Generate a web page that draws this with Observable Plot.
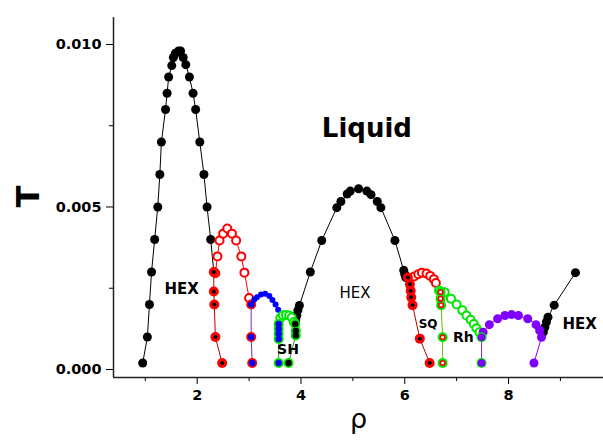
<!DOCTYPE html>
<html><head><meta charset="utf-8">
<script src="https://cdn.jsdelivr.net/npm/d3@7"></script>
<script src="https://cdn.jsdelivr.net/npm/@observablehq/plot@0.6"></script>
<style>
body{margin:0;background:#fff;}
#chart svg{overflow:visible;}
.tk text{font-family:"DejaVu Sans",sans-serif;font-weight:bold;}
</style>
</head><body><div id="chart"></div>
<script>
// ---- data (rho, T) ----
const hex1Rho = [0.95,1.04,1.08,1.12,1.18,1.24,1.28,1.31,1.39,1.42,1.45,1.51,1.54,1.58,1.64,1.68,1.73,1.78,1.85,1.92,1.97,2.05,2.13,2.19,2.26,2.32];
const hex1T   = [0.0002,0.001,0.002,0.003,0.004,0.005,0.006,0.007,0.008,0.0085,0.009,0.00935,0.0096,0.00973,0.0098,0.0098,0.0096,0.00938,0.009,0.0085,0.008,0.007,0.006,0.005,0.004,0.003];

const bnd1Rho = [2.32,2.32,2.33,2.35,2.48];
const bnd1T   = [0.003,0.0024,0.002,0.001,0.0002];

const ph2Rho = [2.35,2.39,2.43,2.50,2.58,2.67,2.75,2.85,2.91,3.0];
const ph2T   = [0.00296,0.00348,0.00397,0.00418,0.00434,0.00418,0.00397,0.00348,0.00298,0.0022];

const bnd2Rho = [3.04,3.04,3.06];
const bnd2T   = [0.002,0.001,0.0002];

const blueRho = [3.1,3.15,3.23,3.31,3.39,3.45,3.51,3.56];
const blueT   = [0.00215,0.00222,0.00231,0.00233,0.00226,0.00214,0.002,0.00184];

const shTopRho = [3.6,3.65,3.71,3.77,3.82,3.86];
const shTopT   = [0.00158,0.00167,0.00168,0.00166,0.0016,0.00146];
const shLeftRho = [3.57,3.57,3.57,3.57,3.57];
const shLeftT   = [0.0014,0.00125,0.0011,0.00094,0.0002];
const shRightRho = [3.89,3.90,3.90,3.76];
const shRightT   = [0.0014,0.00119,0.00105,0.0002];

const hex2Rho = [3.90,3.92,3.94,3.97,4.18,4.40,4.69,4.77,4.89,4.95,5.11,5.27,5.35,5.47,5.54,5.81,5.98,6.0,6.02];
const hex2T   = [0.00153,0.00166,0.00182,0.00197,0.003,0.00397,0.00498,0.00517,0.0054,0.00549,0.00556,0.00549,0.00538,0.00517,0.00498,0.00397,0.00305,0.00293,0.00283];

const sqBndRho = [6.06,6.10,6.115,6.125,6.15,6.29,6.48];
const sqBndT   = [0.00283,0.00262,0.00242,0.00222,0.00198,0.00095,0.0002];
const sqRho = [6.18,6.26,6.33,6.42,6.49,6.56,6.6];
const sqT   = [0.00286,0.00293,0.00298,0.00295,0.00288,0.00278,0.00266];

const rhBndRho = [6.69,6.69,6.7,6.73,6.73];
const rhBndT   = [0.00238,0.00218,0.00198,0.00099,0.0002];
const rhRho = [6.66,6.77,6.89,7.0,7.11,7.19,7.27,7.33,7.38,7.44];
const rhT   = [0.00243,0.00238,0.00218,0.002,0.00182,0.00166,0.00153,0.0014,0.00127,0.00115];

const bnd3Rho = [7.48,7.48];
const bnd3T   = [0.00099,0.0002];

const purRho = [7.51,7.63,7.79,7.93,8.06,8.19,8.37,8.53,8.6,8.635,8.49];
const purT   = [0.00115,0.00138,0.00156,0.00166,0.00169,0.00166,0.00156,0.00138,0.0012,0.00099,0.0002];

const hex3Rho = [8.67,8.70,8.73,8.76,8.88,9.29];
const hex3T   = [0.00115,0.0013,0.00146,0.00161,0.00198,0.00298];

const xTicksMajor = [2,4,6,8];
const xTicksMinor = [1,3,5,7,9];
const yTicksMajor = [0,0.005,0.010];
const yTicksMinor = [0.0025,0.0075];

const phaseLabels = ["HEX","HEX","SH","SQ","Rh","HEX"];
const phaseRho = [1.70,5.04,3.75,6.45,7.13,9.37];
const phaseT   = [0.00246,0.00234,0.00060,0.00139,0.00099,0.00138];

// ---- build ----
const zip = (xs, ys) => xs.map((x,i)=>({rho:x, T:ys[i]}));
const hex1 = zip(hex1Rho,hex1T), bnd1 = zip(bnd1Rho,bnd1T), ph2 = zip(ph2Rho,ph2T),
  bnd2 = zip(bnd2Rho,bnd2T), blue = zip(blueRho,blueT), shTop = zip(shTopRho,shTopT),
  shLeft = zip(shLeftRho,shLeftT), shRight = zip(shRightRho,shRightT), hex2 = zip(hex2Rho,hex2T),
  sqBnd = zip(sqBndRho,sqBndT), sq = zip(sqRho,sqT), rhBnd = zip(rhBndRho,rhBndT), rh = zip(rhRho,rhT),
  bnd3 = zip(bnd3Rho,bnd3T), pur = zip(purRho,purT), hex3 = zip(hex3Rho,hex3T);
const labels = phaseLabels.map((t,i)=>({t, rho:phaseRho[i], T:phaseT[i], size: t==="SQ" ? 12 : (t==="HEX" ? 15 : 14)}));

const RED="#ff0000", GREEN="#00e600", BLUE="#0000ff", PURPLE="#7f00ff";
const P = {x:"rho", y:"T"};
const line = (d, stroke) => Plot.line(d, {...P, stroke, strokeWidth:1});
const dot = (d, o) => Plot.dot(d, {...P, ...o});

const xMin = 0.387, xMax = 9.83, yMin = -0.000246, yMax = 0.01083;

const chart = Plot.plot({
  width:603, height:440,
  marginLeft:113, marginRight:0, marginTop:17, marginBottom:63,
  x:{domain:[xMin,xMax]}, y:{domain:[yMin,yMax]},
  style:{fontFamily:"'Liberation Sans', Arial, sans-serif", background:"#fff", color:"#000"},
  marks:[
    Plot.axisX({ticks:xTicksMajor, tickSize:7, tickPadding:5, fontSize:14.5, tickFormat:d=>String(d), label:null, className:"tk"}),
    Plot.axisX({ticks:xTicksMinor, tickSize:4, tickFormat:()=>"", label:null}),
    Plot.axisY({ticks:yTicksMajor, tickSize:7, tickPadding:5, fontSize:14.5, tickFormat:d3.format(".3f"), label:null, className:"tk"}),
    Plot.axisY({ticks:yTicksMinor, tickSize:4, tickFormat:()=>"", label:null}),
    Plot.ruleX([xMin], {y1:yMin, y2:yMax, stroke:"#222", strokeWidth:1.5}),
    Plot.ruleY([yMin], {x1:xMin, x2:xMax, stroke:"#222", strokeWidth:1.5}),
    // lines
    line(hex1,"#000"), line(bnd1,"#b00000"), line(ph2,RED), line(bnd2,"#6a2fd0"),
    line(blue,BLUE), line(shTop,GREEN), line(shLeft,"#2a8a2a"), line(shRight,"#2a8a2a"),
    line(hex2,"#000"), line(sqBnd,"#b00000"), line(sq,RED), line(rhBnd,"#66bb00"), line(rh,GREEN),
    line(bnd3,"#6a2fd0"), line(pur,PURPLE), line(hex3,"#000"),
    // markers
    dot(hex1,{r:4.5, fill:"#000"}),
    dot(hex2,{r:4.5, fill:"#000"}),
    dot(hex3,{r:4.5, fill:"#000"}),
    dot(ph2,{r:4, fill:"#fff", stroke:RED, strokeWidth:2}),
    dot(bnd1,{r:5, fill:RED}), dot(bnd1,{r:2, fill:"#000"}),
    dot(bnd2,{r:5, fill:RED}), dot(bnd2,{r:3.2, fill:BLUE}),
    dot(blue,{r:3, fill:BLUE}),
    dot(shTop,{r:4, fill:"#fff", stroke:GREEN, strokeWidth:2}),
    dot(shLeft,{r:5, fill:GREEN}), dot(shLeft,{r:3.2, fill:BLUE}),
    dot(shRight,{r:5, fill:GREEN}), dot(shRight,{r:3.2, fill:"#000"}),
    dot(sq,{r:4, fill:"#fff", stroke:RED, strokeWidth:2}),
    dot(sqBnd,{r:5, fill:RED}), dot(sqBnd,{r:2, fill:"#000"}),
    dot(rh,{r:4, fill:"#fff", stroke:GREEN, strokeWidth:2}),
    dot(rhBnd,{r:5, fill:GREEN}), dot(rhBnd,{r:3, fill:RED}), dot(rhBnd,{r:1.4, fill:"#fff"}),
    dot(pur,{r:4.5, fill:PURPLE}),
    dot(bnd3,{r:5, fill:GREEN}), dot(bnd3,{r:3.8, fill:PURPLE}),
    // labels
    Plot.text(labels.filter((d,i)=>i!==1), {x:"rho", y:"T", text:"t", fontSize:d=>d.size, fontWeight:"bold", fontFamily:"'DejaVu Sans', sans-serif", fill:"#000"}),
    Plot.text(labels.filter((d,i)=>i===1), {x:"rho", y:"T", text:"t", fontSize:d=>d.size, fontFamily:"'DejaVu Sans', sans-serif", fill:"#000"}),
    Plot.text(["Liquid"], {x:[5.27], y:[0.00742], text:d=>d, fontSize:26, fontWeight:"bold", fontFamily:"'DejaVu Sans', sans-serif", fill:"#000"}),
    Plot.text(["T"], {frameAnchor:"left", dx:-85, rotate:-90, text:d=>d, fontSize:32, fontWeight:"bold", fontFamily:"'DejaVu Sans', sans-serif", fill:"#000", dy:10}),
    Plot.text(["ρ"], {frameAnchor:"bottom", dy:50, text:d=>d, fontSize:27, fontFamily:"'DejaVu Sans', sans-serif", fill:"#000"})
  ]
});
document.getElementById("chart").append(chart);
</script>
</body></html>
